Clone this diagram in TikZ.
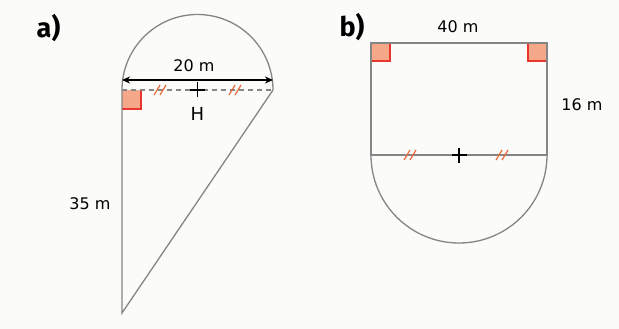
\documentclass[tikz,border=0pt]{standalone}
\usepackage{fontspec}
\setmainfont{DejaVu Sans}
\newfontfamily\partfont{Fira Sans}
\usetikzlibrary{arrows.meta,calc}
\definecolor{figgray}{HTML}{858585}
\definecolor{rafill}{HTML}{F5A889}
\definecolor{raline}{HTML}{E8362C}
\definecolor{tickcol}{HTML}{EC6A3A}
\definecolor{bgcol}{HTML}{FBFBF9}
\tikzset{
  figline/.style={draw=figgray,line width=1.3pt},
  dashline/.style={draw=figgray,line width=1.3pt,dash pattern=on 5pt off 4pt},
  lbl/.style={font=\fontsize{16}{18}\selectfont,inner sep=0pt},
  partlbl/.style={font=\partfont\fontsize{27}{29}\selectfont\bfseries,inner sep=0pt},
  plusmark/.style={draw=black,line width=1.6pt},
  tickmark/.style={draw=tickcol,line width=1.2pt},
  dimarrow/.style={draw=black,line width=1.1pt,{Stealth[length=8pt,width=7pt]}-{Stealth[length=8pt,width=7pt]}},
}
\newcommand{\ticks}[1]{%
  \draw[tickmark] ($(#1)+(-7,5)$) -- ($(#1)+(-1,-5)$);
  \draw[tickmark] ($(#1)+(-1,5)$) -- ($(#1)+(5,-5)$);}
\begin{document}
\begin{tikzpicture}[x=1pt,y=-1pt]
\path[fill=bgcol] (0,0) rectangle (619,329);
\useasboundingbox (0,0) rectangle (619,329);
% ---------- figure a ----------
\coordinate (A) at (122,90);
\coordinate (B) at (273,90);
\coordinate (C) at (122,313);
\coordinate (H) at (197.5,90);
\coordinate (dL) at (122,80);
\coordinate (dR) at (273,80);
% right angle marker
\path[fill=rafill] (A) rectangle (141,109);
\draw[draw=raline,line width=1.3pt] (141,90) -- (141,109) -- (122,109);
% semicircle
\draw[figline] (B) arc[start angle=0,end angle=-180,radius=75.5];
% triangle sides
\draw[figline] (A) -- (C) -- (B);
\draw[dashline] (A) -- (B);
% dimension arrow
\draw[dimarrow] (dL) -- (dR);
\node[lbl] (l20) at (194,65.5) {20 m};
% ticks
\coordinate (ta1) at (161,90);
\coordinate (ta2) at (236,90);
\ticks{ta1}
\ticks{ta2}
% center H
\draw[plusmark] ($(H)+(-7.5,0)$) -- ($(H)+(7.5,0)$);
\draw[plusmark] ($(H)+(0,-7.5)$) -- ($(H)+(0,7.5)$);
\node[lbl,font=\fontsize{18}{20}\selectfont] (lH) at (197.5,114) {H};
\node[lbl] (l35) at (90,203.5) {35 m};
\node[partlbl] (pa) at (48.5,28) {a)};
% ---------- figure b ----------
\coordinate (P) at (371,43);
\coordinate (Q) at (547,43);
\coordinate (R) at (547,155);
\coordinate (S) at (371,155);
\coordinate (O) at (459,155);
\path[fill=rafill] (P) rectangle (390,61);
\draw[draw=raline,line width=1.3pt] (390,43) -- (390,61) -- (371,61);
\path[fill=rafill] (528,43) rectangle (547,61);
\draw[draw=raline,line width=1.3pt] (528,43) -- (528,61) -- (547,61);
\draw[figline] (S) -- (P) -- (Q) -- (R) -- cycle;
\draw[figline] (R) arc[start angle=0,end angle=180,radius=88];
\coordinate (tb1) at (411,155);
\coordinate (tb2) at (503,155);
\ticks{tb1}
\ticks{tb2}
\draw[plusmark] ($(O)+(-7.5,0)$) -- ($(O)+(7.5,0)$);
\draw[plusmark] ($(O)+(0,-7.5)$) -- ($(O)+(0,7.5)$);
\node[lbl] (l40) at (458,27) {40 m};
\node[lbl] (l16) at (582,104.5) {16 m};
\node[partlbl] (pb) at (352,27) {b)};
\end{tikzpicture}
\end{document}
